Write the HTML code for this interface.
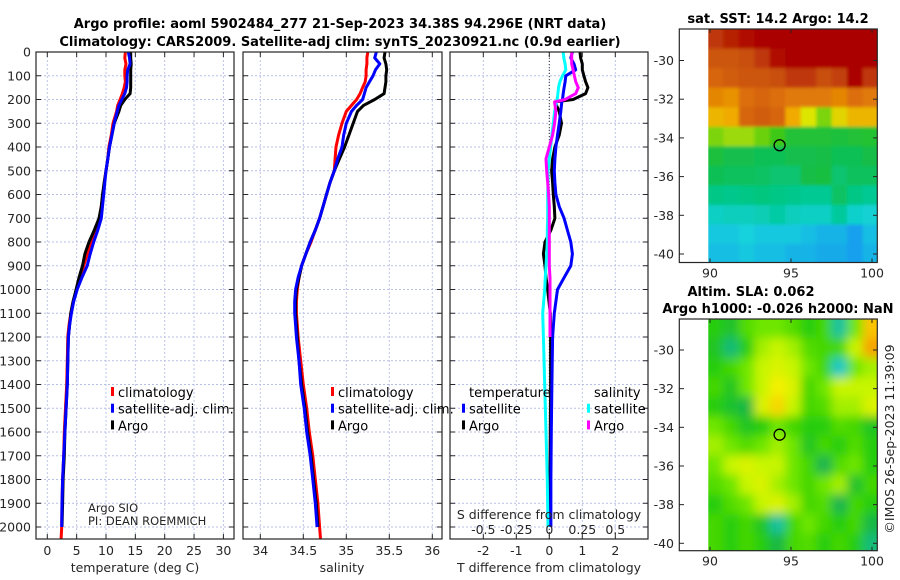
<!DOCTYPE html>
<html><head><meta charset="utf-8">
<style>
html,body{margin:0;padding:0;background:#fff;}
svg{display:block;font-family:"DejaVu Sans","Liberation Sans",sans-serif;}
.tk{font-size:12.5px;fill:#262626;}
.tt{font-size:13px;font-weight:bold;fill:#000;}
.lg{font-size:13px;fill:#000;}
</style></head>
<body>
<svg id="fig" width="900" height="580" viewBox="0 0 900 580">
<defs>
<filter id="blur1" x="0" y="0" width="100%" height="100%"><feGaussianBlur stdDeviation="5"/></filter>
<filter id="blur2" x="0" y="0" width="100%" height="100%"><feGaussianBlur stdDeviation="1.5"/></filter>
<clipPath id="cp1"><rect x="36" y="52" width="198" height="487"/></clipPath>
<clipPath id="cp2"><rect x="243" y="52" width="199" height="487"/></clipPath>
<clipPath id="cp3"><rect x="450" y="52" width="198" height="487"/></clipPath>
<clipPath id="cm1"><rect x="708.3" y="29" width="169" height="233.5"/></clipPath>
<clipPath id="cm2"><rect x="708.3" y="319" width="169" height="231.7"/></clipPath>
</defs>
<text class="tt" x="340" y="28" text-anchor="middle">Argo profile: aoml 5902484_277 21-Sep-2023 34.38S 94.296E (NRT data)</text>
<text class="tt" x="340" y="46" text-anchor="middle">Climatology: CARS2009. Satellite-adj clim: synTS_20230921.nc (0.9d earlier)</text>
<g id="layer"></g>
</svg>
<script>
// ---------- profile data ----------
const depths = [0,25,50,75,100,125,150,175,200,225,250,300,350,400,450,500,550,600,650,700,750,800,850,900,950,1000,1050,1100,1150,1200,1300,1400,1500,1600,1700,1800,1900,2000,2050];
const tempArgo = [14.2,14.2,14.3,14.2,14.2,14.2,14.2,14.1,13.2,12.5,12.2,11.4,11.0,10.6,10.3,10.0,9.7,9.4,9.2,8.8,8.0,7.1,6.4,6.0,5.4,4.9,4.4,4.0,3.8,3.6,3.5,3.4,3.2,3.0,2.9,2.7,2.6,2.5,null];
const tempClim = [13.3,13.2,13.4,13.2,13.2,13.3,13.1,12.8,12.4,12.0,11.8,11.2,10.9,10.5,10.3,10.0,9.7,9.5,9.2,8.9,8.2,7.5,6.8,6.2,5.6,5.0,4.4,4.0,3.7,3.5,3.4,3.3,3.1,2.9,2.8,2.6,2.5,2.45,2.35];
const tempSat = [13.8,14.0,14.1,13.7,13.6,13.6,13.5,13.2,12.7,12.2,11.9,11.4,11.0,10.6,10.3,10.0,9.8,9.6,9.4,9.2,8.6,7.9,7.3,6.8,5.9,5.1,4.5,4.1,3.8,3.6,3.5,3.4,3.2,3.0,2.8,2.6,2.5,2.45,null];
const salArgo = [35.45,35.44,35.46,35.47,35.46,35.46,35.45,35.44,35.33,35.2,35.13,35.08,35.03,34.98,34.92,34.86,34.81,34.77,34.73,34.69,34.64,34.58,34.53,34.48,34.45,34.42,34.41,34.41,34.42,34.43,34.45,34.48,34.52,34.55,34.59,34.62,34.65,34.67,null];
const salClim = [35.25,35.24,35.24,35.23,35.23,35.22,35.19,35.16,35.12,35.06,35.0,34.95,34.91,34.88,34.87,34.86,34.81,34.77,34.73,34.69,34.64,34.59,34.53,34.48,34.45,34.43,34.42,34.42,34.43,34.44,34.47,34.5,34.54,34.57,34.61,34.64,34.67,34.69,34.7];
const salSat = [35.35,35.33,35.39,35.34,35.31,35.27,35.23,35.21,35.19,35.12,35.06,35.0,34.97,34.95,34.9,34.86,34.81,34.77,34.73,34.69,34.64,34.58,34.53,34.48,34.44,34.41,34.4,34.4,34.41,34.42,34.45,34.47,34.51,34.54,34.58,34.61,34.64,34.66,null];
// ---------- difference data ----------
const diffDepths = [0,25,50,75,100,125,150,175,200,210,250,300,350,400,450,500,550,600,650,700,750,800,850,900,950,1000,1100,1200,1400,1600,1800,2000];
const dTempArgo = [0.93,0.95,1.0,1.0,1.05,1.1,1.17,1.1,0.72,0.17,0.3,0.37,0.3,0.17,0.1,0.07,0.1,0.12,0.15,0.17,0.05,-0.13,-0.18,-0.13,-0.1,-0.05,0.03,0.04,0.04,0.03,0.02,0.02];
const dTempSat = [0.7,0.65,0.75,0.8,0.5,0.48,0.45,0.42,0.4,0.38,0.35,0.3,0.25,0.2,0.17,0.15,0.17,0.2,0.3,0.45,0.55,0.65,0.7,0.65,0.45,0.25,0.15,0.1,0.08,0.06,0.05,0.05];
const dSalSat = [0.105,0.11,0.12,0.125,0.1,0.08,0.07,0.065,0.06,0.055,0.04,0.03,0.02,0.01,0.0,-0.01,-0.01,-0.012,-0.012,-0.012,-0.015,-0.015,-0.02,-0.025,-0.03,-0.035,-0.05,-0.045,-0.035,-0.025,-0.015,-0.01];
const dSalArgo = [0.17,0.17,0.17,0.18,0.19,0.2,0.22,0.2,0.12,0.04,0.05,0.04,0.025,0.0,-0.025,-0.02,-0.012,-0.005,0,0,0,0,0,0,0.005,0.005,0.005,0.005,null,null,null,null];
// ---------- tick labels ----------
const depthTicks = [0,100,200,300,400,500,600,700,800,900,1000,1100,1200,1300,1400,1500,1600,1700,1800,1900,2000];
const tempTicks = [0,5,10,15,20,25,30];
const salTicks = [34,34.5,35,35.5,36];
const dTempTicks = [-2,-1,0,1,2];
const dTempLabels = ['-2','-1','0','1','2'];
const dSalTicks = [-0.5,-0.25,0,0.25,0.5];
const latTicks = [-30,-32,-34,-36,-38,-40];
const lonTicks = [90,95,100];
// ---------- map data ----------
const sstGrid = [
[18.5,18.8,19,19.5,19.5,19.5,19.5,19.6,19.6,19.6,19.6],
[18,18,18.2,18.5,19,19.5,19.5,19.5,19.6,19.6,19.5],
[17.5,17.8,18,18,18.2,18.5,18.5,18.2,18.4,19.5,18.5],
[16.8,16.6,17.2,17.5,17.2,17,17,17,16.8,17.2,17],
[16,16.2,17.5,17.8,17.5,16.2,15.2,14.6,15.5,16,16],
[14.6,14.8,14.8,14.5,14.2,13.5,13.5,13.5,13.4,13.5,13.6],
[13.4,13.1,13.1,13.0,13.0,13.1,13.1,13.2,13.0,13.0,13.2],
[13.0,12.9,12.9,12.8,12.6,12.6,13.2,13.3,12.6,12.9,12.9],
[12.3,12.2,12.3,12.4,12.3,12.2,12.1,12.1,12.8,12.3,12.1],
[11.5,11.6,11.6,11.7,11.9,11.6,11.5,11.5,12.0,11.4,11.3],
[11.1,11.1,11.2,11.1,11.1,11.1,11.0,10.9,10.9,10.7,11.0],
[11.0,11.0,11.1,11.0,11.0,10.9,10.9,10.8,10.8,10.7,10.9]];
const slaGrid = [
[0.0,-0.03,0.03,0.05,0.05,0.03,0.0,0.02,-0.1,0.05,0.2],
[-0.02,-0.08,0.0,0.08,0.1,0.08,0.03,0.02,0.02,0.1,0.25],
[0.0,0.02,0.05,0.1,0.12,0.1,0.05,0.02,-0.12,0.05,0.08],
[0.02,-0.02,0.05,0.1,0.15,0.12,0.02,0.05,0.1,0.1,0.1],
[0.0,-0.03,-0.05,0.12,0.18,0.1,0.02,0.03,0.08,0.08,0.12],
[0.05,0.02,-0.02,0.0,0.05,0.02,0.0,0.0,0.03,0.02,-0.02],
[0.08,0.05,0.03,0.05,0.08,0.05,-0.02,0.02,0.0,0.03,0.0],
[0.05,0.1,0.12,0.1,0.1,0.05,0.02,-0.06,0.03,0.05,0.0],
[0.03,0.05,0.1,0.12,0.08,0.05,0.02,0.05,0.08,-0.03,0.02],
[0.0,0.03,0.05,0.1,0.12,0.08,0.02,0.03,-0.06,0.02,0.0],
[0.02,0.0,0.02,-0.02,-0.1,0.02,0.05,0.02,0.0,0.02,-0.05],
[0.02,0.0,0.02,0.0,-0.05,0.02,0.03,0.0,0.02,0.0,-0.08]];
const gridLon0 = 89.9, gridLonStep = 0.955, gridLat0 = -28.4, gridLatStep = -1.01;
const argoLon = 94.296, argoLat = -34.38;

const NS = 'http://www.w3.org/2000/svg';
const layer = document.getElementById('layer');
function mk(tag, attrs, parent) {
  const e = document.createElementNS(NS, tag);
  for (const k in attrs) e.setAttribute(k, attrs[k]);
  (parent || layer).appendChild(e);
  return e;
}
const Y0 = 52, YB = 539;
const yD = d => Y0 + d * 0.2375;
const xT = v => 47.3 + v * 5.87;
const xS = v => 260.3 + (v - 34) * 86;
const xDT = v => 549.3 + v * 33;
const xDS = v => 549.3 + v * 132;

function panel(name, x0, x1, xticks, xfn) {
  const g = mk('g', {});
  
  
  xticks.forEach(v => {
    const l = mk('line', {x1: xfn(v), x2: xfn(v), y1: Y0, y2: YB, stroke: '#b8bfe6', 'stroke-width': 0.9, 'stroke-dasharray': '2,2'}, g);
    
    
    mk('line', {x1: xfn(v), x2: xfn(v), y1: YB, y2: YB - 5, stroke: '#262626'}, g);
    mk('line', {x1: xfn(v), x2: xfn(v), y1: Y0, y2: Y0 + 5, stroke: '#262626'}, g);
  });
  depthTicks.forEach(d => {
    const l = mk('line', {x1: x0, x2: x1, y1: yD(d), y2: yD(d), stroke: '#b8bfe6', 'stroke-width': 0.9, 'stroke-dasharray': '2,2'}, g);
    
    
    mk('line', {x1: x0, x2: x0 + 5, y1: yD(d), y2: yD(d), stroke: '#262626'}, g);
    mk('line', {x1: x1, x2: x1 - 5, y1: yD(d), y2: yD(d), stroke: '#262626'}, g);
  });
  return g;
}
function series(name, ds, vals, xfn, color, clip, w) {
  let p = '', started = false;
  vals.forEach((v, i) => {
    if (v === null) { started = false; return; }
    p += (started ? 'L' : 'M') + xfn(v).toFixed(1) + ',' + yD(ds[i]).toFixed(1);
    started = true;
  });
  const e = mk('path', {d: p, fill: 'none', stroke: color, 'stroke-width': w || 3, 'stroke-linejoin': 'round', 'clip-path': 'url(#' + clip + ')'});
  
  
}
function frame(name, x0, x1) {
  const r = mk('rect', {x: x0, y: Y0, width: x1 - x0, height: YB - Y0, fill: 'none', stroke: '#262626', 'stroke-width': 1.2});
  
  
}
function txt(s, x, y, cls, anchor, name) {
  const t = mk('text', {x: x, y: y, class: cls, 'text-anchor': anchor || 'start'});
  t.textContent = s;
  
  
  return t;
}

// Panel 1: temperature
panel('temperature-panel', 36, 234, tempTicks, xT);
series('temp-climatology-line', depths, tempClim, xT, '#ff0000', 'cp1');
series('temp-argo-line', depths, tempArgo, xT, '#000000', 'cp1');
series('temp-satellite-line', depths, tempSat, xT, '#0000ff', 'cp1');
frame('temperature-axes', 36, 234);
depthTicks.forEach(d => txt(String(d), 31, yD(d) + 4.5, 'tk', 'end', 'depth-tick-label'));
tempTicks.forEach(v => txt(String(v), xT(v), 555, 'tk', 'middle', 'temp-tick-label'));
txt('temperature (deg C)', 135, 572, 'tk', 'middle', 'x-axis-title-temperature');
txt('Argo SIO', 88, 512, 'tk', 'start', 'argo-sio-note').setAttribute('style', 'font-size:11.5px');
txt('PI: DEAN ROEMMICH', 88, 525, 'tk', 'start', 'pi-note').setAttribute('style', 'font-size:11.5px');

// Panel 2: salinity
panel('salinity-panel', 243, 442, salTicks, xS);
series('sal-climatology-line', depths, salClim, xS, '#ff0000', 'cp2');
series('sal-argo-line', depths, salArgo, xS, '#000000', 'cp2');
series('sal-satellite-line', depths, salSat, xS, '#0000ff', 'cp2');
frame('salinity-axes', 243, 442);
salTicks.forEach(v => txt(String(v), xS(v), 555, 'tk', 'middle', 'sal-tick-label'));
txt('salinity', 342, 572, 'tk', 'middle', 'x-axis-title-salinity');

// Panel 3: differences
panel('difference-panel', 450, 648, dTempTicks, xDT);
mk('line', {x1: xDT(0), x2: xDT(0), y1: Y0, y2: YB, stroke: '#333', 'stroke-width': 1, 'stroke-dasharray': '1,2'});
series('dtemp-argo-line', diffDepths, dTempArgo, xDT, '#000000', 'cp3');
series('dsal-satellite-line', diffDepths, dSalSat, xDS, '#00ffff', 'cp3');
series('dtemp-satellite-line', diffDepths, dTempSat, xDT, '#0000ff', 'cp3');
series('dsal-argo-line', diffDepths, dSalArgo, xDS, '#ff00ff', 'cp3');
frame('difference-axes', 450, 648);
dTempTicks.forEach((v, i) => txt(dTempLabels[i], xDT(v), 555, 'tk', 'middle', 'dtemp-tick-label'));
dSalTicks.forEach(v => txt(String(v), xDS(v), 534, 'tk', 'middle', 'dsal-tick-label'));
txt('S difference from climatology', 549, 519, 'tk', 'middle', 'dsal-axis-title');
txt('T difference from climatology', 549, 572, 'tk', 'middle', 'x-axis-title-difference');

// Legends
function legend(items, x, y0, name) {
  const g = mk('g', {});
  
  
  items.forEach((it, i) => {
    const y = y0 + i * 16.7;
    if (it[1]) mk('rect', {x: x, y: y - 10, width: 3, height: 9, fill: it[1]}, g);
    const t = mk('text', {x: x + 7, y: y, class: 'lg'}, g);
    t.textContent = it[0];
    
    
  });
}
legend([['climatology', '#ff0000'], ['satellite-adj. clim.', '#0000ff'], ['Argo', '#000000']], 111, 397, 'legend-temperature');
legend([['climatology', '#ff0000'], ['satellite-adj. clim.', '#0000ff'], ['Argo', '#000000']], 331, 397, 'legend-salinity');
legend([['temperature', null], ['satellite', '#0000ff'], ['Argo', '#000000']], 462, 397, 'legend-dtemp');
legend([['salinity', null], ['satellite', '#00ffff'], ['Argo', '#ff00ff']], 587, 397, 'legend-dsal');

// ---------- maps ----------
function rgb(c) { return 'rgb(' + c.join(',') + ')'; }
function lerpColor(stops, v) {
  if (v <= stops[0][0]) return rgb(stops[0][1]);
  for (let i = 1; i < stops.length; i++) {
    if (v <= stops[i][0]) {
      const a = stops[i - 1], b = stops[i], f = (v - a[0]) / (b[0] - a[0]);
      return rgb(a[1].map((x, k) => Math.round(x + (b[1][k] - x) * f)));
    }
  }
  return rgb(stops[stops.length - 1][1]);
}
const sstStops = [[10.6,[20,150,240]],[11.2,[20,210,220]],[12.2,[0,200,140]],[13.2,[20,190,70]],[14.2,[60,200,20]],[15.2,[220,230,0]],[16.2,[240,170,0]],[17.2,[220,110,10]],[18.2,[200,80,10]],[19.2,[170,0,0]]];
const slaStops = [[-0.12,[20,200,200]],[-0.06,[20,180,80]],[0.0,[40,205,10]],[0.05,[110,230,0]],[0.1,[200,245,0]],[0.15,[245,240,0]],[0.2,[250,195,0]],[0.27,[245,150,0]]];

function map(name, top, bottom, lat30, lat40, grid, stops, clip, blur) {
  const yL = lat => lat30 + (lat + 30) * (lat30 - lat40) / 10;
  const xL = lon => 710 + (lon - 90) * 16.2;
  const g = mk('g', {'clip-path': 'url(#' + clip + ')'});
  
  
  const inner = mk('g', {filter: 'url(#' + blur + ')'}, g);
  mk('rect', {x: 690, y: top - 20, width: 210, height: bottom - top + 40, fill: lerpColor(stops, grid[grid.length - 1][5])}, inner);
  grid.forEach((row, r) => row.forEach((v, c) => {
    const lonA = gridLon0 + c * gridLonStep, latA = gridLat0 + r * gridLatStep;
    let x0 = xL(lonA), x1 = xL(lonA + gridLonStep);
    let y0 = yL(latA), y1 = yL(latA + gridLatStep);
    if (c === 0) x0 -= 15;
    if (c === row.length - 1) x1 += 15;
    if (r === 0) y0 -= 15;
    if (r === grid.length - 1) y1 += 15;
    const cell = mk('rect', {x: x0 - 0.5, y: y0 - 0.5, width: x1 - x0 + 1, height: y1 - y0 + 1, fill: lerpColor(stops, v)}, inner);
    
    
  }));
  const box = mk('rect', {x: 679.3, y: top, width: 198, height: bottom - top, fill: 'none', stroke: '#262626', 'stroke-width': 1.2});
  
  
  latTicks.forEach(l => {
    mk('line', {x1: 679.3, x2: 684, y1: yL(l), y2: yL(l), stroke: '#262626'});
    mk('line', {x1: 877.3, x2: 873, y1: yL(l), y2: yL(l), stroke: '#262626'});
    txt(String(l), 674, yL(l) + 4.5, 'tk', 'end', 'lat-tick-label');
  });
  lonTicks.forEach(l => {
    mk('line', {x1: xL(l), x2: xL(l), y1: bottom, y2: bottom - 4, stroke: '#262626'});
    mk('line', {x1: xL(l), x2: xL(l), y1: top, y2: top + 4, stroke: '#262626'});
    txt(String(l), xL(l), bottom + 15, 'tk', 'middle', 'lon-tick-label');
  });
  const c = mk('circle', {cx: xL(argoLon), cy: yL(argoLat), r: 5.5, fill: 'none', stroke: '#000', 'stroke-width': 1.3});
  
  
}
map('sst-map', 29, 262.5, 60.5, 254, sstGrid, sstStops, 'cm1', 'blur2');
map('sla-map', 319, 550.7, 350, 543.3, slaGrid, slaStops, 'cm2', 'blur1');
txt('sat. SST: 14.2 Argo: 14.2', 778, 23, 'tt', 'middle', 'sst-map-title');
txt('Altim. SLA: 0.062', 751, 296, 'tt', 'middle', 'sla-map-title-line1');
txt('Argo h1000: -0.026 h2000: NaN', 778, 313, 'tt', 'middle', 'sla-map-title-line2');
const ts = txt('©IMOS 26-Sep-2023 11:39:09', 0, 0, 'tk', 'middle', 'timestamp');
ts.setAttribute('transform', 'translate(894,439) rotate(-90)');
</script>
</body></html>
